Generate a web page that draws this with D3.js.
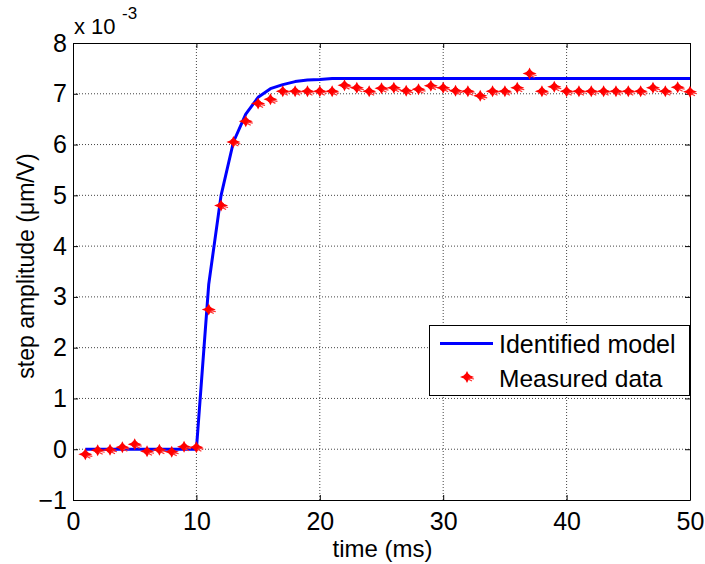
<!DOCTYPE html>
<html>
<head>
<meta charset="utf-8">
<script src="https://cdn.jsdelivr.net/npm/d3@7/dist/d3.min.js"></script>
<style>
  html, body { margin: 0; padding: 0; background: #fff; }
  svg { display: block; font-family: Arial, "Liberation Sans", Helvetica, sans-serif; }
</style>
</head>
<body>
<svg id="chart" width="705" height="564"></svg>
<script>
// ---- data (values in units of 1e-3 µm/V) ----
const time = [1,2,3,4,5,6,7,8,9,10,11,12,13,14,15,16,17,18,19,20,21,22,23,24,25,26,27,28,29,30,31,32,33,34,35,36,37,38,39,40,41,42,43,44,45,46,47,48,49,50];
const measured = [-0.10,-0.02,-0.01,0.04,0.10,-0.04,-0.01,-0.05,0.05,0.04,
                  2.75,4.80,6.05,6.46,6.81,6.89,7.05,7.05,7.05,7.05,
                  7.05,7.17,7.12,7.05,7.11,7.12,7.06,7.09,7.16,7.12,
                  7.06,7.05,6.96,7.05,7.05,7.12,7.40,7.05,7.14,7.05,
                  7.05,7.05,7.05,7.05,7.05,7.05,7.12,7.05,7.13,7.04];
const model = [0,0,0,0,0,0,0,0,0,0,
               3.25,5.00,6.05,6.60,6.93,7.10,7.18,7.24,7.27,7.28,
               7.30,7.30,7.30,7.30,7.30,7.30,7.30,7.30,7.30,7.30,
               7.30,7.30,7.30,7.30,7.30,7.30,7.30,7.30,7.30,7.30,
               7.30,7.30,7.30,7.30,7.30,7.30,7.30,7.30,7.30,7.30];
const xTicks = [0,10,20,30,40,50];
const yTicks = [-1,0,1,2,3,4,5,6,7,8];
const seriesNames = ["Identified model", "Measured data"];
const xLabel = "time (ms)";
const yLabel = "step amplitude (\u03BCm/V)";

// ---- layout ----
const L = 73, R = 690, T = 43, B = 500;
const svg = d3.select("#chart");
const x = d3.scaleLinear().domain([0, 50]).range([L, R]);
const y = d3.scaleLinear().domain([-1, 8]).range([B, T]);
const FS = 25;

// grid
const grid = svg.append("g");
grid.selectAll("line.gx").data(xTicks.slice(1, -1)).join("line")
  .attr("x1", d => x(d)).attr("x2", d => x(d)).attr("y1", T).attr("y2", B)
  .attr("stroke", "#444").attr("stroke-width", 1).attr("stroke-dasharray", "1,2");
grid.selectAll("line.gy").data(yTicks.slice(1, -1)).join("line")
  .attr("x1", L).attr("x2", R).attr("y1", d => y(d)).attr("y2", d => y(d))
  .attr("stroke", "#444").attr("stroke-width", 1).attr("stroke-dasharray", "1,2");

// axes (MATLAB style, ticks inward, full box)
const ax = svg.append("g").attr("transform", `translate(0,${B})`)
  .call(d3.axisBottom(x).tickValues(xTicks).tickSizeInner(-5).tickSizeOuter(0));
const axT = svg.append("g").attr("transform", `translate(0,${T})`)
  .call(d3.axisTop(x).tickValues(xTicks).tickSizeInner(-5).tickSizeOuter(0).tickFormat(""));
const ay = svg.append("g").attr("transform", `translate(${L},0)`)
  .call(d3.axisLeft(y).tickValues(yTicks).tickSizeInner(-5).tickSizeOuter(0).tickPadding(6));
const ayR = svg.append("g").attr("transform", `translate(${R},0)`)
  .call(d3.axisRight(y).tickValues(yTicks).tickSizeInner(-5).tickSizeOuter(0).tickFormat(""));
[ax, axT, ay, ayR].forEach(g => {
  g.select(".domain").attr("stroke", "#000").attr("stroke-width", 1);
  g.selectAll(".tick line").attr("stroke", "#000");
  g.selectAll("text").attr("font-size", FS).attr("fill", "#000")
    .attr("font-family", "Arial, 'Liberation Sans', sans-serif");
});
ax.selectAll(".tick text").attr("y", 30).attr("dy", 0);

// exponent label
svg.append("text").attr("x", 74).attr("y", 34).attr("font-size", 22).attr("fill", "#000").text("x 10");
svg.append("text").attr("x", 122).attr("y", 19).attr("font-size", 17).attr("fill", "#000").text("-3");

// axis labels
svg.append("text").attr("x", (L + R) / 2 + 1).attr("y", 557).attr("text-anchor", "middle")
  .attr("font-size", 24).attr("fill", "#000").text(xLabel);
svg.append("text").attr("transform", `translate(34,266) rotate(-90)`)
  .attr("text-anchor", "middle").attr("font-size", 23).attr("fill", "#000").text(yLabel);

// model line
const pts = time.map((t, i) => ({t, m: model[i], v: measured[i]}));
svg.append("path").datum(pts)
  .attr("d", d3.line().x(d => x(d.t)).y(d => y(d.m)))
  .attr("fill", "none").attr("stroke", "#0000ff").attr("stroke-width", 3)
  .attr("stroke-linejoin", "round");

// marker shape
function marker(g) {
  g.append("path")
    .attr("d", "M-7,0 L-2,-2 L0,-6 L2,-2 L7,0 L2,2 L0,6 L-2,2 Z")
    .attr("fill", "#ff0000");
  g.append("circle").attr("r", 3.2).attr("fill", "#ff0000");
  g.append("path").attr("d", "M1,2 L5,4 M2,1 L7,2").attr("stroke", "#ff3030").attr("stroke-width", 1.2);
}
svg.append("g").selectAll("g").data(pts).join("g")
  .attr("transform", d => `translate(${x(d.t)},${y(d.v)})`)
  .each(function() { marker(d3.select(this)); });

// legend
const lg = svg.append("g");
lg.append("rect").attr("x", 429.5).attr("y", 325.5).attr("width", 260).attr("height", 70)
  .attr("fill", "#fff").attr("stroke", "#000").attr("stroke-width", 1);
lg.append("line").attr("x1", 440).attr("x2", 493).attr("y1", 343.5).attr("y2", 343.5)
  .attr("stroke", "#0000ff").attr("stroke-width", 3);
lg.append("text").attr("x", 499).attr("y", 353).attr("font-size", 25).attr("fill", "#000").text(seriesNames[0]);
marker(lg.append("g").attr("transform", "translate(467,377)"));
lg.append("text").attr("x", 499).attr("y", 387).attr("font-size", 24.5).attr("fill", "#000").text(seriesNames[1]);
</script>
</body>
</html>
